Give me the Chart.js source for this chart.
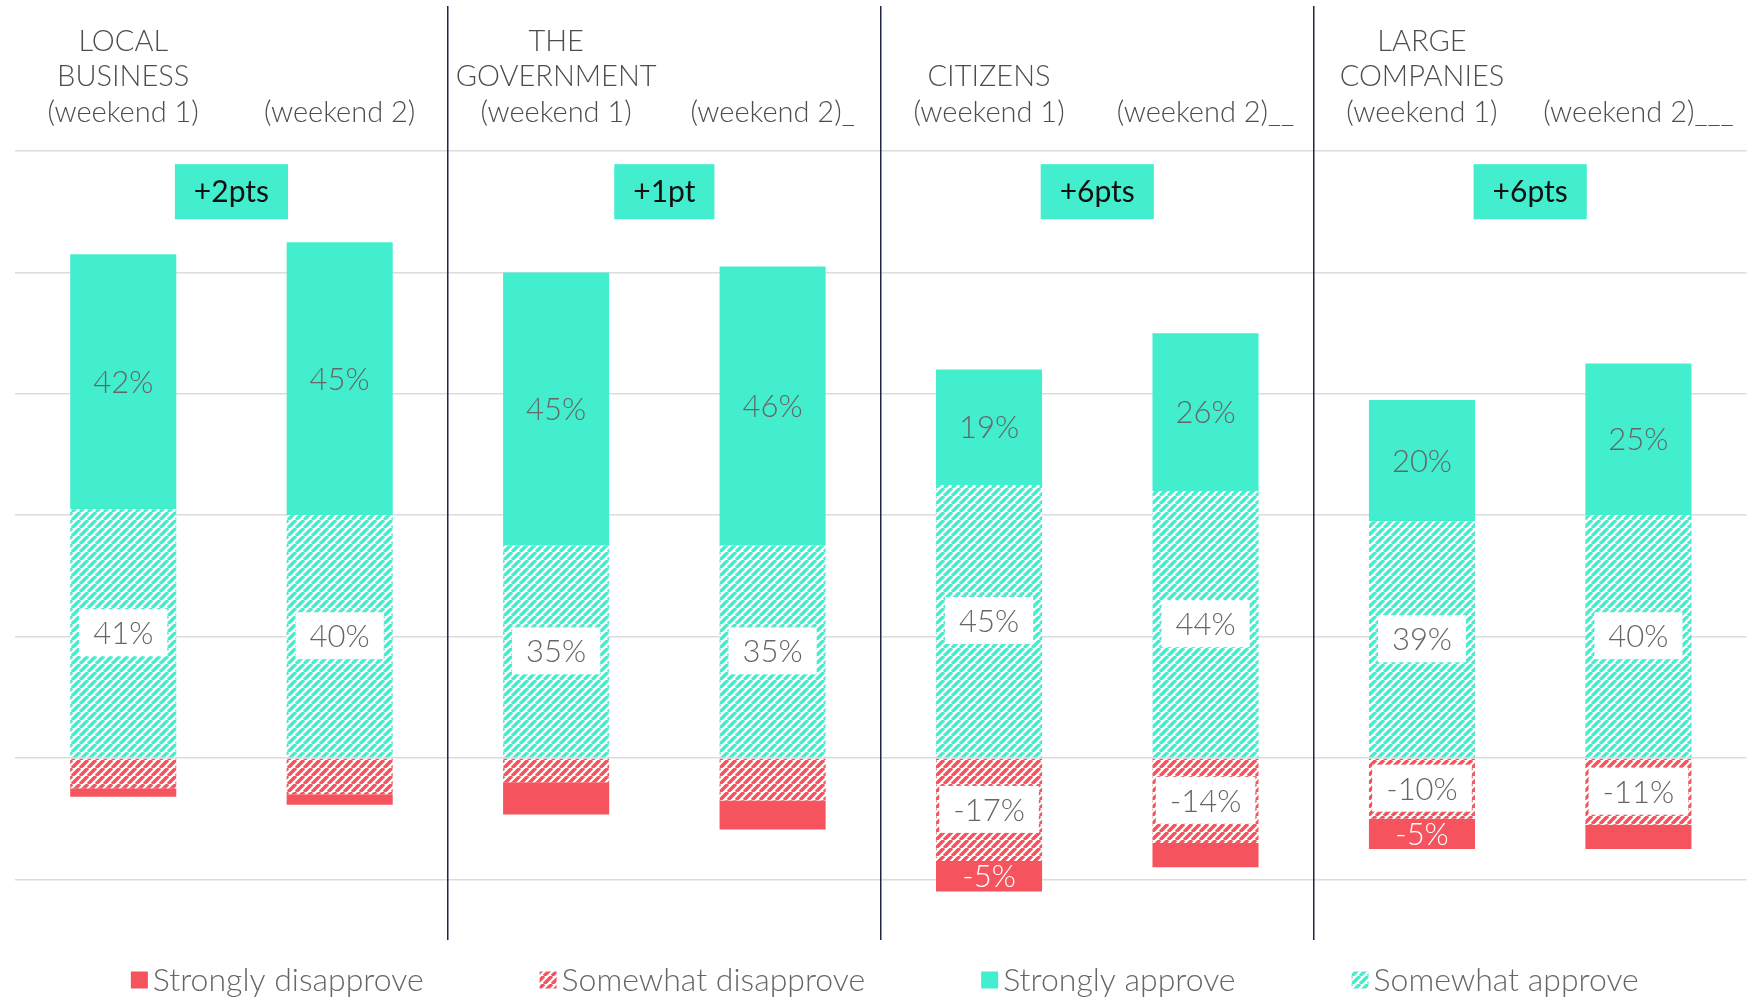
<!DOCTYPE html>
<html>
<head>
<meta charset="utf-8">
<script src="https://cdn.jsdelivr.net/npm/chart.js@4.4.1/dist/chart.umd.min.js"></script>
<style>
    body { margin: 0; background: #fff; }
</style>
</head>
<body>
<canvas id="approvalChart" width="1755" height="999"></canvas>
<script>
// Header text for each pair of bars
const GROUP_NAMES = [['LOCAL', 'BUSINESS'], ['THE', 'GOVERNMENT'], ['CITIZENS'], ['LARGE', 'COMPANIES']]
const WEEKEND_1 = '(weekend 1)'
const WEEKEND_2 = ['(weekend 2)', '(weekend 2)_', '(weekend 2)__', '(weekend 2)___']
const CHANGE_LABELS = ['+2pts', '+1pt', '+6pts', '+6pts']

// One value per bar, in order: group 1 wk1, group 1 wk2, group 2 wk1 ...
const SOMEWHAT_APPROVE = [41, 40, 35, 35, 45, 44, 39, 40]
const STRONGLY_APPROVE = [42, 45, 45, 46, 19, 26, 20, 25]
const SOMEWHAT_DISAPPROVE = [-5, -6, -4, -7, -17, -14, -10, -11]
const STRONGLY_DISAPPROVE = [-1.4, -1.7, -5.3, -4.8, -5, -4, -5, -4]
// only two of the small red segments carry a caption in the original
const STRONGLY_DISAPPROVE_SHOWN = [false, false, false, false, true, false, true, false]

const GRID_VALUES = [-20, 0, 20, 40, 60, 80, 100]
const LEGEND_ORDER = ['Strongly disapprove', 'Somewhat disapprove', 'Strongly approve', 'Somewhat approve']

const TEAL = '#42eecd'
const RED = '#f5535d'

// Builds the diagonal stripe fill used for the "somewhat" segments
function makeHatch(color) {
    const size = 8
    const c = document.createElement('canvas')
    c.width = size
    c.height = size
    const hctx = c.getContext('2d')
    hctx.fillStyle = '#fff'
    hctx.fillRect(0, 0, size, size)
    hctx.strokeStyle = color
    hctx.lineWidth = 3.5
    hctx.beginPath()
    for (let k = -1; k <= 1; k++) {
        hctx.moveTo(k * size, size)
        hctx.lineTo(k * size + size, 0)
    }
    hctx.stroke()
    return hctx.createPattern(c, 'repeat')
}

// x axis labels: group name + weekend on the first bar, weekend only on the second
let barLabels = []
GROUP_NAMES.forEach((name, i) => {
    barLabels.push([...name, WEEKEND_1])
    barLabels.push([WEEKEND_2[i]])
})

// Writes the percentages on top of each segment
const segmentTextPlugin = {
    id: 'segmentText',
    afterDatasetsDraw(chart) {
        const ctx = chart.ctx
        ctx.save()
        ctx.font = '300 31px Lato'
        ctx.textAlign = 'center'
        ctx.textBaseline = 'middle'
        chart.data.datasets.forEach((ds, di) => {
            const meta = chart.getDatasetMeta(di)
            meta.data.forEach((bar, i) => {
                const v = ds.data[i]
                if (!ds.showText(v, i)) return
                const text = Math.round(v) + '%'
                const cy = (bar.y + bar.base) / 2
                if (ds.textBox) {
                    const w = ctx.measureText(text).width + 28
                    ctx.fillStyle = '#fff'
                    ctx.fillRect(bar.x - w / 2, cy - 24, w, 47)
                }
                ctx.fillStyle = ds.textColor
                ctx.fillText(text, bar.x, cy + 1)
            })
        })
        ctx.restore()
    }
}

// Group separators, "+Npts" badges and the legend row
const decorPlugin = {
    id: 'decor',
    afterDraw(chart) {
        const ctx = chart.ctx
        const x = chart.scales.x
        const y = chart.scales.y
        const area = chart.chartArea
        ctx.save()

        // dark vertical lines between the groups
        ctx.strokeStyle = '#1e2640'
        ctx.lineWidth = 1.5
        for (let g = 1; g < GROUP_NAMES.length; g++) {
            const sx = Math.round((x.getPixelForValue(g * 2 - 1) + x.getPixelForValue(g * 2)) / 2) - 0.25
            ctx.beginPath()
            ctx.moveTo(sx, 6)
            ctx.lineTo(sx, area.bottom)
            ctx.stroke()
        }

        // change badges centred over each pair
        ctx.font = '400 30px Lato'
        ctx.textAlign = 'center'
        ctx.textBaseline = 'middle'
        const by = y.getPixelForValue(93.4)
        CHANGE_LABELS.forEach((label, g) => {
            const cx = (x.getPixelForValue(g * 2) + x.getPixelForValue(g * 2 + 1)) / 2
            const w = ctx.measureText(label).width + 38
            ctx.fillStyle = TEAL
            ctx.fillRect(cx - w / 2, by - 27, w, 55)
            ctx.fillStyle = '#111'
            ctx.fillText(label, cx, by + 1)
        })

        // legend
        ctx.font = '300 32px Lato'
        ctx.textAlign = 'left'
        const items = LEGEND_ORDER.map((name) => chart.data.datasets.find((d) => d.label == name))
        const box = 17
        const gap = 5
        const spacing = 116
        let total = 0
        items.forEach((d, i) => {
            total += box + gap + ctx.measureText(d.label).width
            if (i < items.length - 1) total += spacing
        })
        let lx = (area.left + area.right) / 2 - total / 2 + 4
        const ly = chart.height - 19
        items.forEach((d) => {
            ctx.fillStyle = d.backgroundColor
            ctx.fillRect(lx, ly - box / 2, box, box)
            lx += box + gap
            ctx.fillStyle = '#666'
            ctx.fillText(d.label, lx, ly + 1)
            lx += ctx.measureText(d.label).width + spacing
        })

        ctx.restore()
    }
}

window.onload = () => {
    const chartCanvas = document.getElementById('approvalChart').getContext('2d')
    new Chart(chartCanvas, {
        type: 'bar',
        data: {
            labels: barLabels,
            datasets: [
                {
                    label: 'Somewhat disapprove',
                    data: SOMEWHAT_DISAPPROVE,
                    backgroundColor: makeHatch(RED),
                    textBox: true,
                    textColor: '#666',
                    showText: (v) => Math.abs(v) >= 10
                },
                {
                    label: 'Strongly disapprove',
                    data: STRONGLY_DISAPPROVE,
                    backgroundColor: RED,
                    textBox: false,
                    textColor: '#fff',
                    showText: (v, i) => STRONGLY_DISAPPROVE_SHOWN[i]
                },
                {
                    label: 'Somewhat approve',
                    data: SOMEWHAT_APPROVE,
                    backgroundColor: makeHatch(TEAL),
                    textBox: true,
                    textColor: '#666',
                    showText: (v) => Math.abs(v) >= 10
                },
                {
                    label: 'Strongly approve',
                    data: STRONGLY_APPROVE,
                    backgroundColor: TEAL,
                    textBox: false,
                    textColor: '#666',
                    showText: (v) => Math.abs(v) >= 10
                }
            ]
        },
        options: {
            responsive: false,
            devicePixelRatio: 1,
            animation: false,
            barPercentage: 0.49,
            categoryPercentage: 1,
            layout: {
                padding: { top: 3, left: 15, right: 6, bottom: 59 }
            },
            plugins: {
                legend: { display: false },
                tooltip: { enabled: false }
            },
            scales: {
                x: {
                    position: 'top',
                    stacked: true,
                    grid: { display: false, drawTicks: false },
                    border: { display: false },
                    ticks: {
                        autoSkip: false,
                        maxRotation: 0,
                        minRotation: 0,
                        padding: 21,
                        color: '#4d4d4d',
                        font: { family: 'Lato', size: 29, weight: 300, lineHeight: 1.22 }
                    }
                },
                y: {
                    stacked: true,
                    min: -30,
                    max: 100,
                    afterBuildTicks: (axis) => {
                        axis.ticks = GRID_VALUES.map((v) => ({ value: v }))
                    },
                    grid: { color: '#dcdcdc', lineWidth: 1.5, drawTicks: false },
                    border: { display: false },
                    ticks: { display: false }
                }
            }
        },
        plugins: [segmentTextPlugin, decorPlugin]
    })
}
</script>
</body>
</html>
